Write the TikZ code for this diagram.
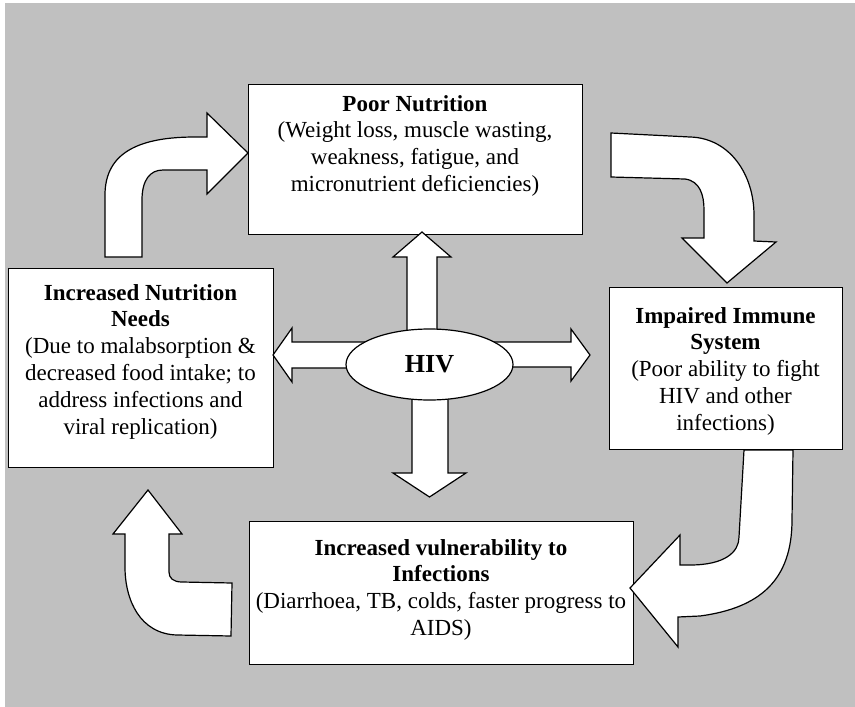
\documentclass[tikz,border=0pt]{standalone}
\usepackage{fontspec}
\setmainfont{Liberation Serif}
\usetikzlibrary{shapes.geometric}
\definecolor{bggray}{RGB}{192,192,192}
\begin{document}
\begin{tikzpicture}[x=1pt,y=-1pt,
  box/.style={draw=black, fill=white, line width=1.4pt, inner sep=0pt, anchor=north west},
  txt/.style={align=center, inner sep=0pt, anchor=north, font={\fontsize{23}{26.8}\selectfont}},
  blockarrow/.style={draw=black, fill=white, line width=1.2pt, line join=miter}]
\useasboundingbox (0,0) rectangle (855,707);
\fill[bggray] (5,3) rectangle (855,707);
% boxes
\node[box, minimum width=334pt, minimum height=150pt] (pn) at (248,84) {};
\node[box, minimum width=233pt, minimum height=162pt] (iis) at (609,287) {};
\node[box, minimum width=265pt, minimum height=199pt] (inn) at (8,268) {};
\node[box, minimum width=384pt, minimum height=143pt] (ivi) at (249,521) {};
% texts
\node[txt] (pnt) at (415,95) {\textbf{Poor Nutrition}\\(Weight loss, muscle wasting,\\weakness, fatigue, and\\micronutrient deficiencies)};
\node[txt] (iist) at (725.5,307) {\textbf{Impaired Immune}\\\textbf{System}\\(Poor ability to fight\\HIV and other\\infections)};
\node[txt] (innt) at (140.5,284) {\textbf{Increased Nutrition}\\\textbf{Needs}\\(Due to malabsorption \&\\decreased food intake; to\\address infections and\\viral replication)};
\node[txt] (ivit) at (441,539) {\textbf{Increased vulnerability to}\\\textbf{Infections}\\(Diarrhoea, TB, colds, faster progress to\\AIDS)};
% curved block arrows
\draw[blockarrow] (105,257) -- (105,195) .. controls (105,152) and (140,137) .. (195,137)
  -- (207,137) -- (207,113) -- (248,153) -- (207,194) -- (207,170) -- (163,170)
  .. controls (150,170) and (142,180) .. (142,200) -- (142,257) -- cycle;
\draw[blockarrow] (611,133) -- (690,137) .. controls (730,138) and (754,175) .. (754,215)
  -- (754,241) -- (776,242) -- (727,283) -- (682,238) -- (704,238) -- (704,210)
  .. controls (704,195) and (700,181) .. (685,179) -- (611,177) -- cycle;
\draw[blockarrow] (744,450) -- (739,537) .. controls (739,552) and (725,565) .. (690,565)
  -- (680,565) -- (680,535) -- (630,588) -- (678,647) -- (678,617) -- (700,616)
  .. controls (760,608) and (792,580) .. (792,520) -- (793,450) -- cycle;
\draw[blockarrow] (148,490) -- (182,534) -- (169,534) -- (169,572)
  .. controls (169,578) and (173,582) .. (182,582) -- (232,583) -- (231,636) -- (177,635)
  .. controls (140,634) and (125,600) .. (125,567) -- (125,534) -- (113,534) -- cycle;
% straight block arrows from HIV
\draw[blockarrow] (407,340) -- (407,257) -- (393,257) -- (422,232) -- (451,257) -- (437,257) -- (437,340) -- cycle;
\draw[blockarrow] (412,390) -- (412,473) -- (393,473) -- (429.5,497) -- (466,473) -- (448,473) -- (448,390) -- cycle;
\draw[blockarrow] (370,342) -- (292,342) -- (292,328) -- (273,355) -- (292,382) -- (292,368) -- (370,368) -- cycle;
\draw[blockarrow] (490,342) -- (571,342) -- (571,329) -- (590,355) -- (571,381) -- (571,367) -- (490,367) -- cycle;
% HIV
\node[draw=black, fill=white, ellipse, line width=1.2pt, inner sep=0pt, minimum width=167pt, minimum height=71pt,
  font={\fontsize{26}{30}\selectfont\bfseries}] (hiv) at (429.5,364.5) {HIV};
\end{tikzpicture}
\end{document}
